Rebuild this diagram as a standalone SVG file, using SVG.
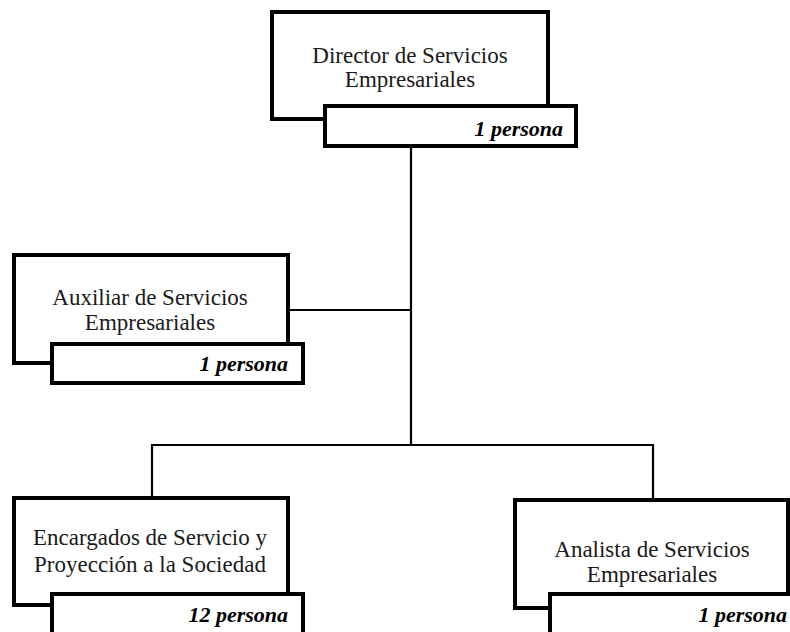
<svg xmlns="http://www.w3.org/2000/svg" width="790" height="632" viewBox="0 0 790 632">
<style>
.box{fill:#fff;stroke:#000;stroke-width:4}
.t{font-family:"Liberation Serif","Times New Roman",serif;font-size:23px;fill:#1a1a1a;text-anchor:middle}
.p{font-family:"Liberation Serif","Times New Roman",serif;font-size:22px;font-weight:bold;font-style:italic;fill:#000;text-anchor:end}
.c{stroke:#000;stroke-width:2.2;fill:none}
</style>
<rect width="790" height="632" fill="#fff"/>
<g id="connectors">
<line class="c" x1="411" y1="148" x2="411" y2="446"/>
<line class="c" x1="290" y1="310" x2="411" y2="310"/>
<line class="c" x1="151" y1="445" x2="654" y2="445"/>
<line class="c" x1="152" y1="444" x2="152" y2="497"/>
<line class="c" x1="653" y1="444" x2="653" y2="500"/>
</g>
<g id="director">
<rect class="box" x="272" y="12" width="276" height="107"/>
<text class="t" x="410" y="63">Director de Servicios</text>
<text class="t" x="410" y="87">Empresariales</text>
<rect class="box" x="325" y="106" width="251" height="40"/>
<text class="p" x="563" y="136">1 persona</text>
</g>
<g id="auxiliar">
<rect class="box" x="14" y="255" width="274" height="108"/>
<text class="t" x="150" y="305">Auxiliar de Servicios</text>
<text class="t" x="150" y="330">Empresariales</text>
<rect class="box" x="52" y="344" width="251" height="39"/>
<text class="p" x="288" y="371">1 persona</text>
</g>
<g id="encargados">
<rect class="box" x="14" y="498" width="274" height="107"/>
<text class="t" x="150" y="545">Encargados de Servicio y</text>
<text class="t" x="150" y="572">Proyección a la Sociedad</text>
<rect class="box" x="52" y="594" width="251" height="50"/>
<text class="p" x="288" y="622">12 persona</text>
</g>
<g id="analista">
<rect class="box" x="515" y="500" width="273" height="108"/>
<text class="t" x="652" y="557">Analista de Servicios</text>
<text class="t" x="652" y="582">Empresariales</text>
<rect class="box" x="550" y="594" width="260" height="50"/>
<text class="p" x="787" y="622">1 persona</text>
</g>
</svg>
